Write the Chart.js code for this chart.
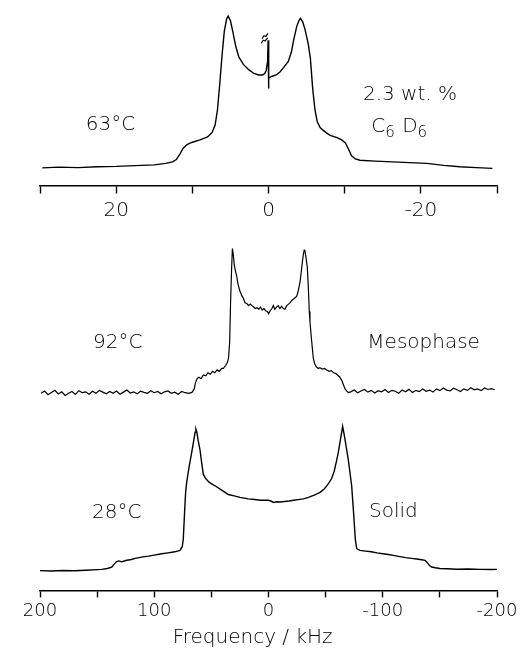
<!DOCTYPE html>
<html>
<head>
<meta charset="utf-8">
<script src="https://cdn.jsdelivr.net/npm/chart.js@4.4.1/dist/chart.umd.min.js"></script>
<style>
  html, body { margin: 0; padding: 0; background: #ffffff; }
  #wrap { position: relative; width: 527px; height: 650px; }
</style>
</head>
<body>
<div id="wrap"><canvas id="c" width="527" height="650"></canvas></div>
<script>
// ---------- DATA (frequency in kHz, normalised intensity) ----------
// 63 °C, 2.3 wt.% C6D6 (top panel, ±30 kHz axis)
const topFreq = [29.7, 27.5, 25, 22.5, 20, 17.5, 15, 13.5, 12.6, 12.1, 11.6, 11.2, 10.7, 10.0, 9.0, 8.0, 7.4, 7.0, 6.7, 6.4, 6.1, 5.8, 5.5, 5.3, 5.0, 4.7, 4.3, 3.9, 3.3, 2.6, 1.9, 1.3, 0.8, 0.5, 0.3, 0.12, 0.05, 0.0, -0.05, -0.4, -1.0, -1.5, -2.0, -2.6, -3.0, -3.3, -3.7, -4.0, -4.2, -4.5, -4.8, -5.2, -5.5, -5.8, -6.1, -6.4, -6.8, -7.5, -8.1, -9.0, -9.6, -10.1, -10.5, -10.9, -11.4, -12.0, -14, -16.3, -18.5, -20.8, -23, -25.1, -27.3, -29.4];
const topInt  = [-0.005, 0.0, -0.003, 0.003, 0.005, 0.01, 0.015, 0.025, 0.035, 0.05, 0.09, 0.125, 0.15, 0.165, 0.18, 0.2, 0.23, 0.28, 0.38, 0.55, 0.74, 0.9, 0.98, 1.0, 0.97, 0.9, 0.8, 0.73, 0.68, 0.645, 0.62, 0.61, 0.61, 0.62, 0.64, 0.7, 0.84, 0.52, 0.59, 0.60, 0.61, 0.63, 0.66, 0.70, 0.76, 0.84, 0.93, 0.97, 0.985, 0.96, 0.91, 0.82, 0.72, 0.52, 0.38, 0.30, 0.26, 0.23, 0.21, 0.195, 0.18, 0.16, 0.12, 0.075, 0.055, 0.046, 0.04, 0.035, 0.03, 0.025, 0.012, 0.003, -0.003, -0.008];
// small break mark drawn above the centre spike
const breakFreq = [0.85, 0.6, 0.35, 0.07, null, 0.95, 0.7, 0.45, 0.1];
const breakInt  = [0.85, 0.87, 0.865, 0.885, null, 0.82, 0.84, 0.835, 0.855];

// 92 °C mesophase (±200 kHz axis)
const mesoFreq = [199, 196, 193, 190, 187, 184, 181, 178, 175, 172, 169, 166, 163, 160, 157, 154, 151, 148, 145, 142, 139, 136, 133, 130, 127, 124, 121, 118, 115, 112, 109, 106, 103, 100, 97, 94, 91, 88, 85, 82, 79, 76, 73, 70, 67,
  65, 64, 62.5, 61, 59, 57, 55, 53, 51, 49, 47, 45, 43, 41, 39.5, 37.5, 36, 35, 34, 33.2, 32.3, 31.6, 30.8, 30, 29, 27.8, 26.5, 25, 23.5, 22, 20.6, 19, 17.5, 16, 14.5, 13, 11.5, 10, 8.5, 7, 5.5, 4, 2.5, 1, 0,
  -1.5, -3, -4.2, -5.5, -7, -8.5, -10, -11.5, -13, -14.4, -16, -17.5, -19, -20.3, -22, -23.5, -24.7, -26, -27.6, -28.8, -29.8, -30.5, -31.3, -31.9, -32.8, -34.0, -35.0, -35.7, -36.3, -37.5, -39.2, -40.5, -42, -43.6, -45, -47, -49, -50.9, -53, -55, -57, -59, -61.1, -62.5, -64, -65.5, -67, -68.5, -70,
  -72, -75, -78, -81, -84, -87, -90, -93, -96, -99, -102, -105, -108, -111, -114, -117, -120, -123, -126, -129, -132, -135, -138, -141, -144, -147, -150, -153, -156, -159, -162, -165, -168, -171, -174, -177, -180, -183, -186, -189, -192, -195, -198];
const mesoInt = [0.0, 0.015, -0.01, 0.005, 0.02, -0.005, 0.01, -0.015, 0.0, 0.012, -0.008, 0.018, 0.004, 0.01, -0.006, 0.014, 0.0, 0.02, 0.008, -0.004, 0.012, 0.0, 0.016, -0.006, 0.008, 0.022, 0.002, 0.01, -0.004, 0.014, 0.006, 0.0, 0.018, 0.004, 0.012, -0.004, 0.01, 0.016, 0.0, 0.008, -0.006, 0.012, 0.004, 0.0, 0.006,
  0.03, 0.07, 0.10, 0.11, 0.10, 0.125, 0.12, 0.14, 0.13, 0.15, 0.14, 0.16, 0.15, 0.17, 0.17, 0.19, 0.21, 0.24, 0.35, 0.62, 0.85, 0.99, 0.95, 0.88, 0.84, 0.80, 0.74, 0.70, 0.67, 0.65, 0.62, 0.615, 0.60, 0.61, 0.60, 0.59, 0.58, 0.585, 0.575, 0.59, 0.57, 0.58, 0.565, 0.56, 0.545,
  0.565, 0.58, 0.60, 0.575, 0.59, 0.60, 0.58, 0.595, 0.58, 0.575, 0.60, 0.61, 0.62, 0.635, 0.645, 0.655, 0.665, 0.70, 0.76, 0.84, 0.91, 0.95, 0.98, 0.975, 0.93, 0.86, 0.70, 0.56, 0.49, 0.38, 0.24, 0.20, 0.18, 0.17, 0.175, 0.165, 0.17, 0.16, 0.15, 0.155, 0.14, 0.135, 0.12, 0.11, 0.09, 0.06, 0.03, 0.015, 0.005,
  0.01, 0.022, 0.004, 0.016, 0.026, 0.008, 0.02, 0.002, 0.018, 0.01, 0.026, 0.006, 0.02, 0.014, 0.0, 0.022, 0.01, 0.028, 0.006, 0.02, 0.012, 0.03, 0.014, 0.022, 0.008, 0.03, 0.018, 0.036, 0.022, 0.016, 0.034, 0.024, 0.012, 0.03, 0.02, 0.038, 0.024, 0.03, 0.018, 0.036, 0.026, 0.032, 0.024];

// 28 °C solid (±200 kHz axis)
const solidFreq = [200, 190, 180, 170, 160, 150, 146, 141, 137.2, 135, 133, 131, 128.5, 125, 120, 116.8, 110, 105, 100, 93.5, 88, 82, 77.5, 75.5, 74.6, 73.5, 72.5, 71.6, 69.5, 67.2, 65.5, 64.2, 63.5, 62.7, 61.5, 60.0, 58.5, 57.1, 55, 52, 49, 46.8, 42, 38, 35.2, 30, 25, 17.7, 12, 7, 3, 0.2,
  -2, -4.5, -7, -10.1, -14, -18, -22, -26, -30.5, -35, -40, -45.1, -49, -52, -55.3, -57.5, -59.5, -61.1, -63, -64.9, -66.5, -68.4, -70, -72.8, -74.5, -76, -77.2, -80.1, -85, -90, -95, -100, -105, -109.2, -115, -120, -125, -130, -134, -137, -139, -141, -142.8, -146, -150, -156, -165, -175, -185, -195, -200];
const solidInt = [0.005, 0.003, 0.006, 0.004, 0.008, 0.012, 0.014, 0.02, 0.03, 0.05, 0.068, 0.072, 0.066, 0.075, 0.082, 0.09, 0.1, 0.105, 0.112, 0.122, 0.128, 0.135, 0.145, 0.17, 0.22, 0.40, 0.55, 0.615, 0.72, 0.82, 0.9, 0.96, 0.98, 0.96, 0.9, 0.84, 0.75, 0.67, 0.64, 0.615, 0.60, 0.59, 0.565, 0.545, 0.53, 0.52, 0.51, 0.50, 0.495, 0.49, 0.49, 0.49,
  0.485, 0.475, 0.48, 0.478, 0.482, 0.485, 0.49, 0.495, 0.50, 0.51, 0.525, 0.545, 0.57, 0.60, 0.64, 0.69, 0.76, 0.82, 0.91, 1.0, 0.93, 0.84, 0.76, 0.59, 0.40, 0.22, 0.157, 0.145, 0.14, 0.135, 0.128, 0.122, 0.116, 0.11, 0.102, 0.095, 0.09, 0.085, 0.08, 0.076, 0.06, 0.04, 0.03, 0.025, 0.02, 0.018, 0.015, 0.016, 0.014, 0.013, 0.014];

// tick labels shown on the two frequency axes
const topTickLabels = [20, 0, -20];
const bottomTickLabels = [200, 100, 0, -100, -200];
const axisTitle = 'Frequency / kHz';

// text labels: [text parts, x-axis id, x value (kHz), y-axis id, y value (baseline)]
const notes = [
  { parts: [['63°C', 0]], xAxis: 'xTop', x: 24.0, yAxis: 'yTop', y: 0.245 },
  { parts: [['2.3 wt. %', 0]], xAxis: 'xTop', x: -12.4, yAxis: 'yTop', y: 0.444 },
  { parts: [['C', 0], ['6', 1], [' D', 0], ['6', 1]], xAxis: 'xTop', x: -13.5, yAxis: 'yTop', y: 0.232 },
  { parts: [['92°C', 0]], xAxis: 'xBot', x: 153.6, yAxis: 'yMid', y: 0.308 },
  { parts: [['Mesophase', 0]], xAxis: 'xBot', x: -86.5, yAxis: 'yMid', y: 0.308 },
  { parts: [['28°C', 0]], xAxis: 'xBot', x: 154.5, yAxis: 'yBot', y: 0.366 },
  { parts: [['Solid', 0]], xAxis: 'xBot', x: -88.0, yAxis: 'yBot', y: 0.372 }
];

// ---------- BUILD ----------
const zip = (xs, ys) => xs.map((x, i) => (x === null ? { x: NaN, y: null } : { x: x, y: ys[i] }));
const FONT = "'DejaVu Sans', 'Liberation Sans', sans-serif";
const WEIGHT = 200;
const INK = '#000000';

const notePlugin = {
  id: 'notes',
  afterDatasetsDraw(chart) {
    const ctx = chart.ctx;
    ctx.save();
    ctx.fillStyle = INK;
    ctx.textBaseline = 'alphabetic';
    ctx.textAlign = 'left';
    notes.forEach(n => {
      let px = chart.scales[n.xAxis].getPixelForValue(n.x);
      const py = chart.scales[n.yAxis].getPixelForValue(n.y);
      n.parts.forEach(([t, sub]) => {
        ctx.font = sub ? `${WEIGHT} 15px ${FONT}` : `${WEIGHT} 20px ${FONT}`;
        ctx.fillText(t, px, sub ? py + 5 : py);
        px += ctx.measureText(t).width + (sub ? 1 : 0);
      });
    });
    ctx.restore();
  }
};

const lineStyle = {
  borderColor: INK, borderWidth: 1.4, pointRadius: 0, tension: 0, fill: false, spanGaps: false
};

const axisCommon = (labels, size, pad, step) => ({
  type: 'linear',
  reverse: true,
  grid: { drawOnChartArea: false, drawTicks: true, tickLength: 7, color: INK, tickWidth: 1.4 },
  border: { display: true, color: INK, width: 1.5 },
  ticks: {
    autoSkip: false, maxRotation: 0, color: INK, padding: pad, stepSize: step,
    font: { family: FONT, size: size, weight: WEIGHT },
    callback: v => (labels.includes(v) ? String(v) : '')
  }
});

new Chart(document.getElementById('c'), {
  type: 'line',
  data: {
    datasets: [
      Object.assign({ label: '63 °C', data: zip(topFreq, topInt), xAxisID: 'xTop', yAxisID: 'yTop' }, lineStyle),
      Object.assign({ label: 'break', data: zip(breakFreq, breakInt), xAxisID: 'xTop', yAxisID: 'yTop' }, lineStyle, { borderWidth: 1.2 }),
      Object.assign({ label: '92 °C', data: zip(mesoFreq, mesoInt), xAxisID: 'xBot', yAxisID: 'yMid' }, lineStyle, { borderWidth: 1.2 }),
      Object.assign({ label: '28 °C', data: zip(solidFreq, solidInt), xAxisID: 'xBot', yAxisID: 'yBot' }, lineStyle)
    ]
  },
  options: {
    responsive: false,
    animation: false,
    devicePixelRatio: 1,
    layout: { padding: { top: 10, left: 40, right: 30, bottom: 0 } },
    plugins: { legend: { display: false }, tooltip: { enabled: false } },
    scales: {
      xBot: Object.assign(axisCommon(bottomTickLabels, 18, 3, 50), {
        position: 'bottom', min: -200, max: 200,
        title: { display: true, text: axisTitle + '     ', color: INK, font: { family: FONT, size: 20, lineHeight: 1.2, weight: WEIGHT }, padding: { top: 1, bottom: 0 } }
      }),
      xTop: Object.assign(axisCommon(topTickLabels, 20, 6, 10), {
        position: { yTop: -0.126 }, min: -30, max: 30
      }),
      yTop: { type: 'linear', display: false, min: -2.801, max: 1.04 },
      yMid: { type: 'linear', display: false, min: -1.349, max: 2.623 },
      yBot: { type: 'linear', display: false, min: -0.131, max: 3.869 }
    }
  },
  plugins: [notePlugin]
});
</script>
</body>
</html>
